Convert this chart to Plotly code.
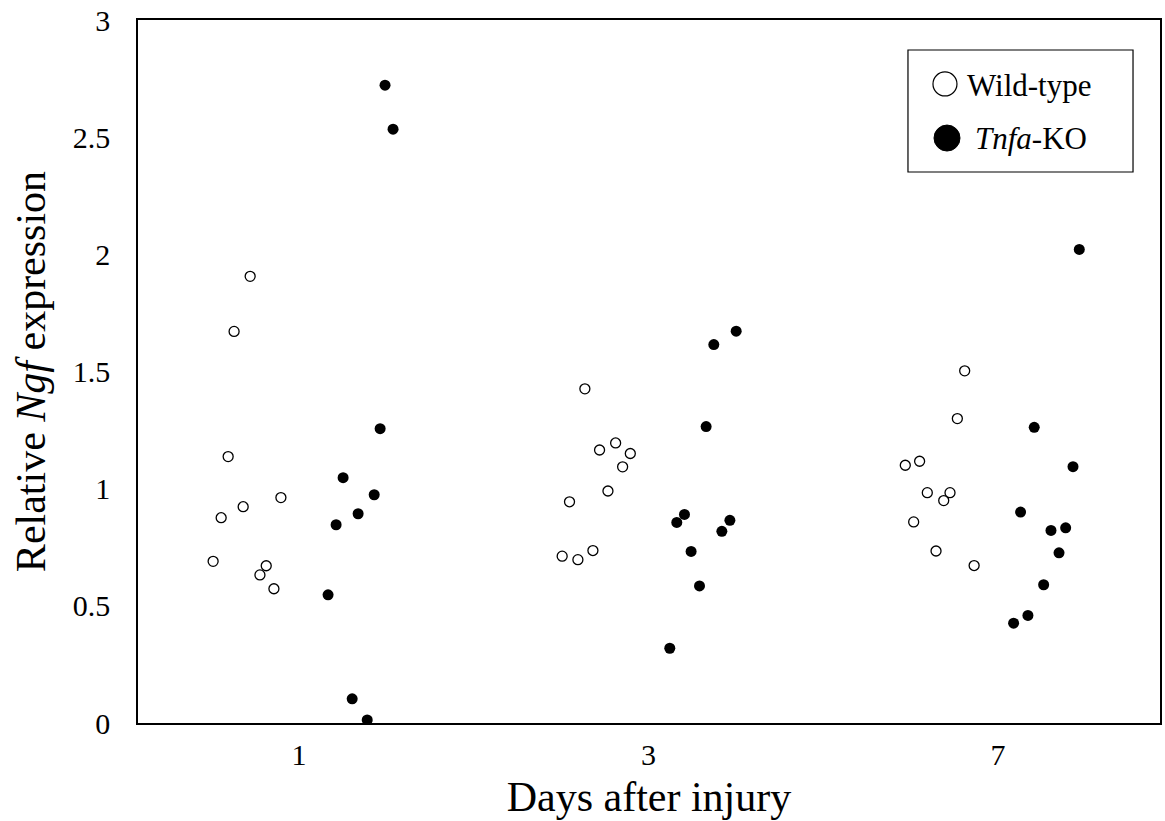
import plotly.graph_objects as go

# ---- data ----
days = ["1", "3", "7"]

# Wild-type: values and horizontal jitter (in category units) per day
wt_d1 = [0.69, 0.876, 1.137, 1.671, 0.923, 1.906, 0.632, 0.671, 0.573, 0.962]
wt_d1_jit = [-0.246, -0.223, -0.203, -0.186, -0.160, -0.140, -0.112, -0.094, -0.072, -0.052]
wt_d3 = [0.712, 0.944, 0.697, 1.426, 0.736, 1.165, 0.99, 1.195, 1.093, 1.15]
wt_d3_jit = [-0.247, -0.226, -0.202, -0.182, -0.159, -0.140, -0.116, -0.094, -0.074, -0.052]
wt_d7 = [1.10, 0.858, 1.117, 0.983, 0.734, 0.949, 0.983, 1.299, 1.503, 0.672]
wt_d7_jit = [-0.265, -0.241, -0.224, -0.202, -0.177, -0.155, -0.137, -0.116, -0.095, -0.068]

# Tnfa-KO
ko_d1 = [0.547, 0.846, 1.047, 0.103, 0.893, 0.013, 0.974, 1.256, 2.722, 2.534]
ko_d1_jit = [0.083, 0.106, 0.126, 0.152, 0.169, 0.195, 0.215, 0.232, 0.246, 0.269]
ko_d3 = [0.319, 0.856, 0.89, 0.732, 0.585, 1.265, 1.615, 0.818, 0.865, 1.672]
ko_d3_jit = [0.061, 0.081, 0.103, 0.122, 0.146, 0.165, 0.187, 0.210, 0.233, 0.251]
ko_d7 = [0.426, 0.90, 0.459, 1.262, 0.59, 0.822, 0.726, 0.833, 1.094, 2.021]
ko_d7_jit = [0.045, 0.065, 0.086, 0.104, 0.131, 0.152, 0.175, 0.194, 0.215, 0.233]

y_ticks = [0, 0.5, 1, 1.5, 2, 2.5, 3]
y_ticklabels = ["0", "0.5", "1", "1.5", "2", "2.5", "3"]

FONT = "Liberation Serif"


def build(groups):
    xs, ys = [], []
    for i, (vals, jit) in enumerate(groups):
        for v, j in zip(vals, jit):
            xs.append(i + j)
            ys.append(v)
    return xs, ys


wt_x, wt_y = build([(wt_d1, wt_d1_jit), (wt_d3, wt_d3_jit), (wt_d7, wt_d7_jit)])
ko_x, ko_y = build([(ko_d1, ko_d1_jit), (ko_d3, ko_d3_jit), (ko_d7, ko_d7_jit)])

fig = go.Figure()
fig.add_trace(go.Scatter(
    x=wt_x, y=wt_y, mode="markers", name="Wild-type", showlegend=False,
    marker=dict(symbol="circle", size=10, color="white",
                line=dict(color="black", width=1.3)),
))
fig.add_trace(go.Scatter(
    x=ko_x, y=ko_y, mode="markers", name="<i>Tnfa</i>-KO", showlegend=False,
    marker=dict(symbol="circle", size=11, color="black",
                line=dict(color="black", width=0)),
))

# ---- legend box drawn manually (larger symbols than native legend allows) ----
shapes = [
    dict(type="rect", xref="paper", yref="paper", x0=0.7534, x1=0.9736,
         y0=0.7838, y1=0.9573, line=dict(color="black", width=1.2),
         fillcolor="white", layer="above"),
    dict(type="circle", xref="paper", yref="paper", xsizemode="pixel",
         ysizemode="pixel", xanchor=0.7896, yanchor=0.9090,
         x0=-12, x1=12, y0=-12, y1=12,
         line=dict(color="black", width=1.2), fillcolor="white", layer="above"),
    dict(type="circle", xref="paper", yref="paper", xsizemode="pixel",
         ysizemode="pixel", xanchor=0.7916, yanchor=0.8321,
         x0=-13, x1=13, y0=-13, y1=13,
         line=dict(color="black", width=1), fillcolor="black", layer="above"),
]
annotations = [
    dict(xref="paper", yref="paper", x=0.8092, y=0.9075, text="Wild-type",
         showarrow=False, xanchor="left", yanchor="middle",
         font=dict(family=FONT, size=31, color="black")),
    dict(xref="paper", yref="paper", x=0.817, y=0.832, text="<i>Tnfa</i>-KO",
         showarrow=False, xanchor="left", yanchor="middle",
         font=dict(family=FONT, size=31, color="black")),
]

fig.update_layout(
    width=1165, height=821,
    margin=dict(l=138, r=3, t=19, b=98),
    paper_bgcolor="white", plot_bgcolor="white",
    font=dict(family=FONT, color="black"),
    showlegend=False,
    shapes=shapes, annotations=annotations,
    xaxis=dict(
        range=[-0.461, 2.464], tickvals=[0, 1, 2], ticktext=days,
        showgrid=False, zeroline=False, ticks="",
        showline=True, mirror=True, linecolor="black", linewidth=1.5,
        tickfont=dict(family=FONT, size=30, color="black"),
        ticklabelstandoff=4,
        title=dict(text="Days after injury", standoff=12,
                   font=dict(family=FONT, size=42, color="black")),
    ),
    yaxis=dict(
        range=[0, 3], tickvals=y_ticks, ticktext=y_ticklabels,
        showgrid=False, zeroline=False, ticks="",
        showline=True, mirror=True, linecolor="black", linewidth=1.5,
        tickfont=dict(family=FONT, size=30, color="black"),
        ticklabelstandoff=20,
        title=dict(text="Relative <i>Ngf</i> expression", standoff=14,
                   font=dict(family=FONT, size=42, color="black")),
    ),
)

fig.write_html("out.html")
